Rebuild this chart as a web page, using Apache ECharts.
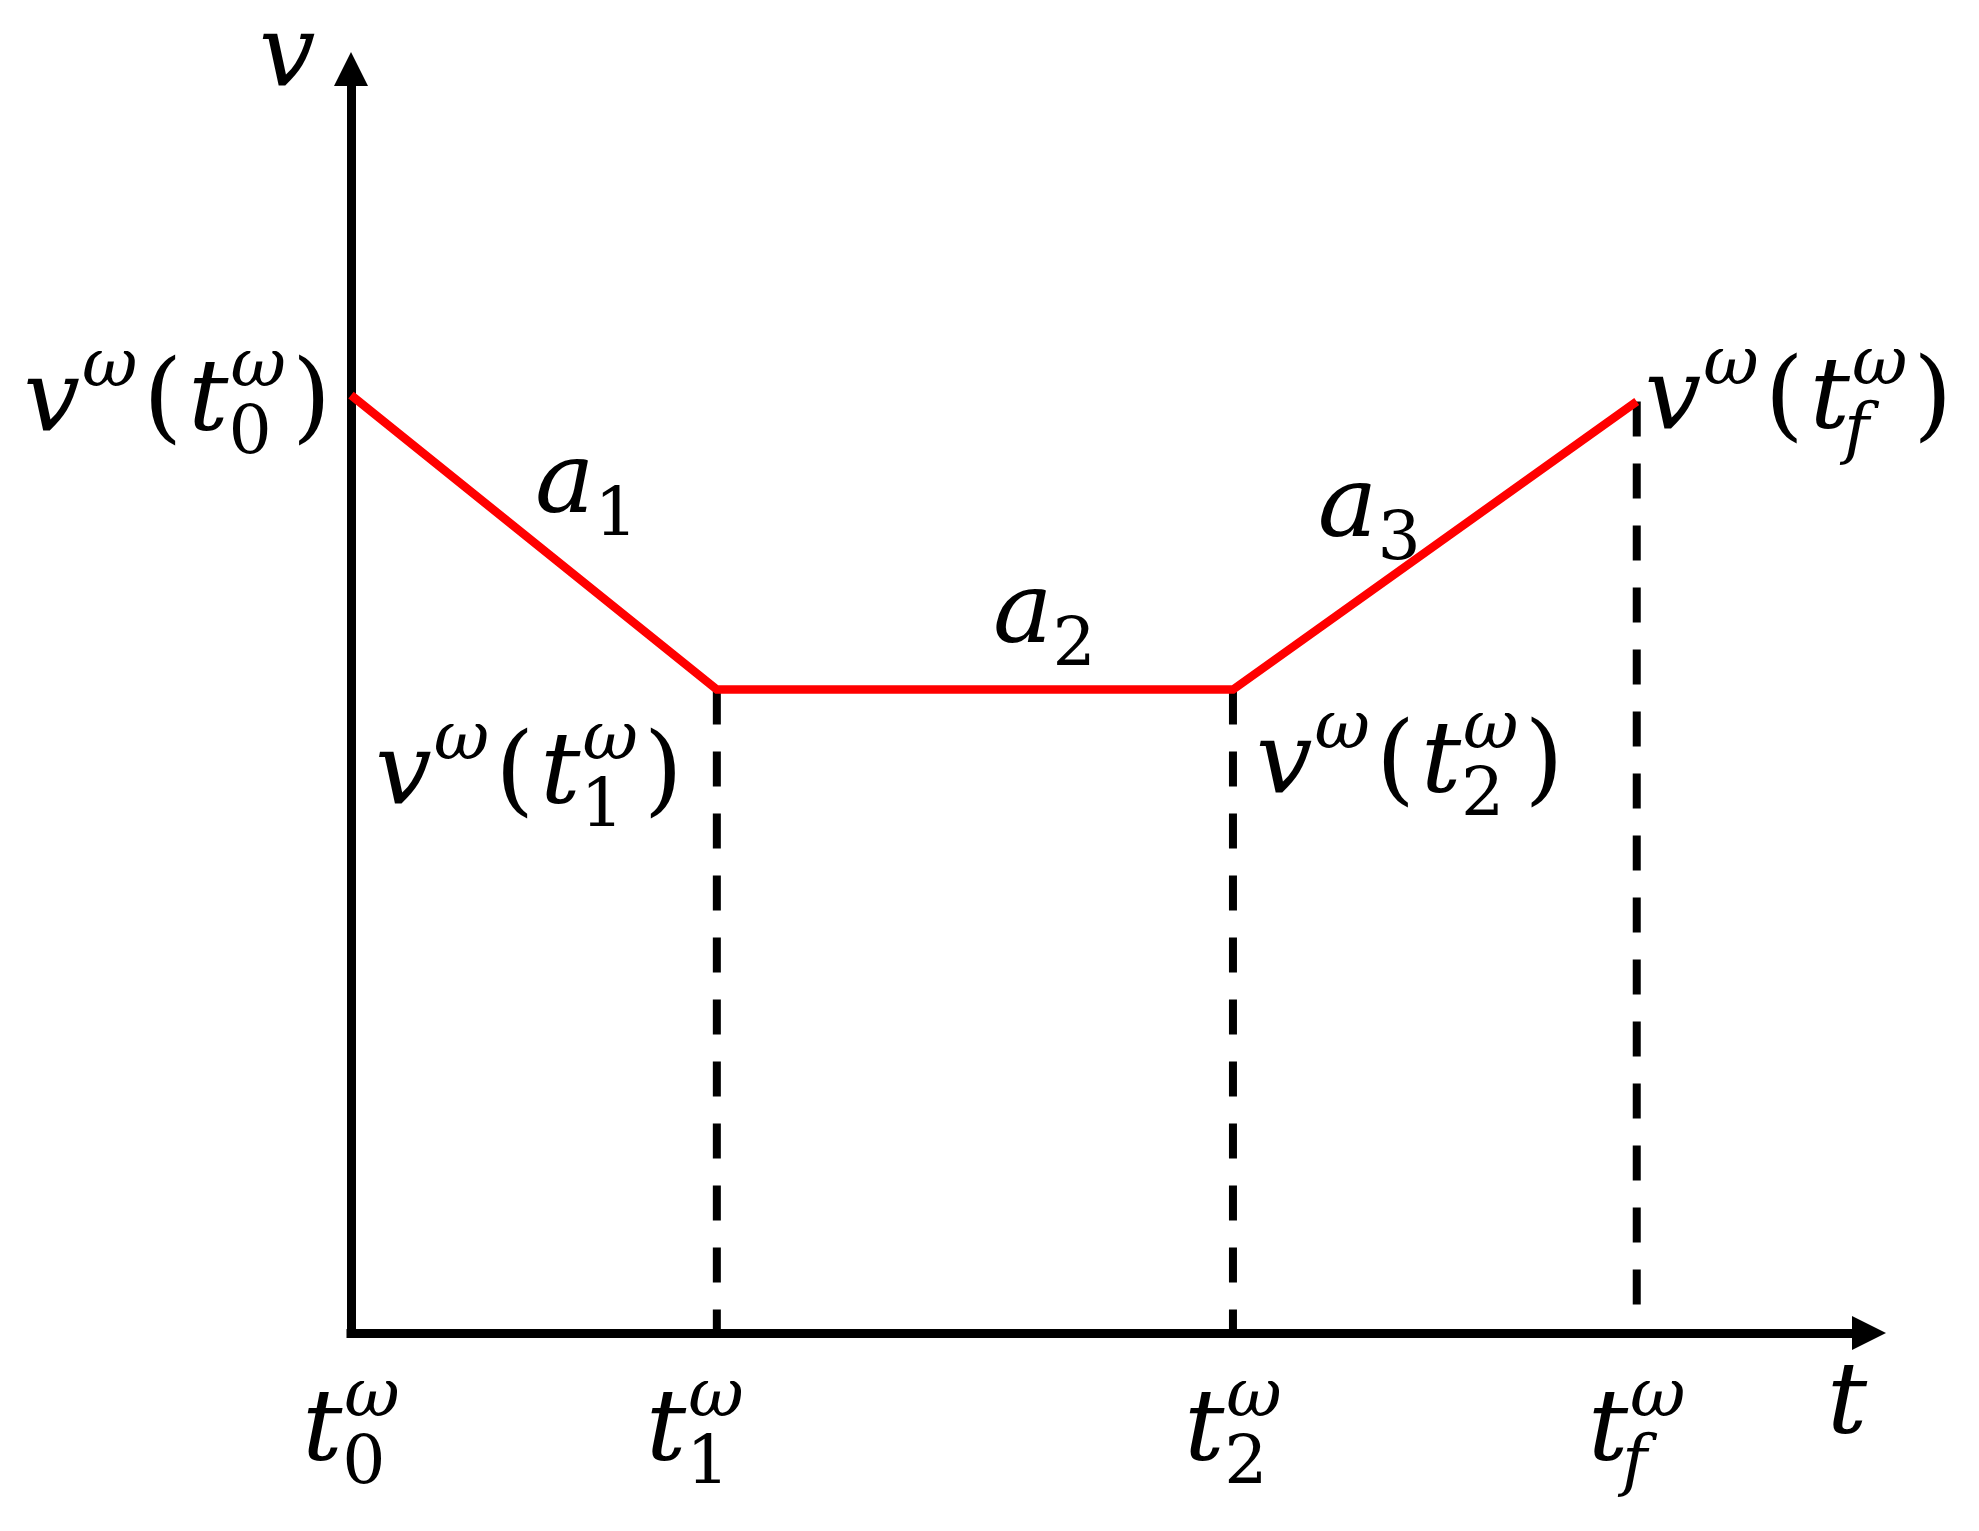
<!DOCTYPE html>
<html>
<head>
<meta charset="utf-8">
<script src="https://cdn.jsdelivr.net/npm/echarts@6/dist/echarts.min.js"></script>
<style>
  html, body { margin: 0; padding: 0; background: #fff; }
  #main { width: 1979px; height: 1531px; }
</style>
</head>
<body>
<div id="main"></div>
<script>
// break points of the speed profile (t on x, v on y)
var tTicks = [0, 24.1, 58.1, 84.7];
var vValues = [74.2, 50.9, 50.9, 73.7];
var tickLabels = ['t_0^ω', 't_1^ω', 't_2^ω', 't_f^ω'];
var pointLabels = ['v^ω(t_0^ω)', 'v^ω(t_1^ω)', 'v^ω(t_2^ω)', 'v^ω(t_f^ω)'];
var segmentLabels = ['a_1', 'a_2', 'a_3'];
var axisNames = ['t', 'v'];

// where each label sits relative to its anchor (pixels, baseline based)
var tickPlace = [{dx: 0}, {dx: -22}, {dx: 0}, {dx: 0}];
var pointPlace = [
    {align: 'right', dx: -20, dy: 35},
    {align: 'right', dx: -34, dy: 113},
    {align: 'left', dx: 23, dy: 102},
    {align: 'left', dx: 8, dy: 27}
];
var segmentPlace = [
    {dx: 1, dy: -30},
    {dx: 18, dy: -48},
    {dx: -117, dy: -10}
];

var FONT = '"DejaVu Serif", serif';
var MAIN = 100, SMALL = 68, RUN_GAP = 6;
var ctx = document.createElement('canvas').getContext('2d');

function isItalic(c) {
    return /[a-zA-Zα-ω]/.test(c);
}
function fontOf(size, italic) {
    return (italic ? 'italic ' : '') + size + 'px ' + FONT;
}
function measure(txt, size, italic) {
    ctx.font = fontOf(size, italic);
    return ctx.measureText(txt).width;
}
function parseMath(str) {
    var runs = [];
    for (var i = 0; i < str.length; i++) {
        var c = str[i];
        if ((c === '^' || c === '_') && runs.length) {
            runs[runs.length - 1][c === '^' ? 'sup' : 'sub'] = str[++i];
        } else {
            runs.push({base: c});
        }
    }
    return runs;
}
function layoutMath(str) {
    var glyphs = [];
    var x = 0;
    var runs = parseMath(str);
    runs.forEach(function (r, n) {
        var it = isItalic(r.base);
        glyphs.push({text: r.base, x: x, dy: 0, size: MAIN, italic: it});
        x += measure(r.base, MAIN, it);
        if (r.sup || r.sub) {
            var sw = 0;
            if (r.sup) {
                glyphs.push({text: r.sup, x: x + 2, dy: -0.44 * MAIN, size: SMALL, italic: isItalic(r.sup)});
                sw = Math.max(sw, measure(r.sup, SMALL, isItalic(r.sup)) + 2);
            }
            if (r.sub) {
                var sx = r.sub === 'f' ? x - 6 : x;
                glyphs.push({text: r.sub, x: sx, dy: 0.23 * MAIN, size: SMALL, italic: isItalic(r.sub)});
                sw = Math.max(sw, measure(r.sub, SMALL, isItalic(r.sub)));
            }
            x += sw;
        }
        if (n < runs.length - 1) x += RUN_GAP;
    });
    return {glyphs: glyphs, width: x};
}

// anchors (data coords) for every math label, plus how to place it
var labelItems = [];
tTicks.forEach(function (t, i) {
    labelItems.push({value: [t, 0], text: tickLabels[i], align: 'center', dx: tickPlace[i].dx, dy: 127});
    labelItems.push({value: [t, vValues[i]], text: pointLabels[i],
        align: pointPlace[i].align, dx: pointPlace[i].dx, dy: pointPlace[i].dy});
});
segmentLabels.forEach(function (s, i) {
    labelItems.push({value: [(tTicks[i] + tTicks[i + 1]) / 2, (vValues[i] + vValues[i + 1]) / 2],
        text: s, align: 'left', dx: segmentPlace[i].dx, dy: segmentPlace[i].dy});
});
labelItems.push({value: [100, 0], text: axisNames[0], align: 'left', dx: -42, dy: 100});
labelItems.push({value: [0, 100], text: axisNames[1], align: 'left', dx: -92, dy: 16});

var axisCommon = {
    type: 'value',
    min: 0,
    max: 100,
    axisLine: {
        show: true,
        symbol: ['none', 'triangle'],
        symbolSize: [34, 34],
        lineStyle: {color: '#000', width: 9, cap: 'square'}
    },
    axisTick: {show: false},
    axisLabel: {show: false},
    splitLine: {show: false}
};

var series = [];
// dashed drop lines
for (var k = 1; k < tTicks.length; k++) {
    series.push({
        type: 'line',
        z: 1,
        symbol: 'none',
        silent: true,
        data: [[tTicks[k], vValues[k]], [tTicks[k], 0]],
        lineStyle: {color: '#000', width: 8, type: [35, 27]}
    });
}
series.push({
    type: 'line',
    z: 3,
    symbol: 'none',
    silent: true,
    data: tTicks.map(function (t, i) { return [t, vValues[i]]; }),
    lineStyle: {color: '#ff0000', width: 8.5, join: 'miter'}
});
series.push({
    type: 'custom',
    z: 4,
    silent: true,
    clip: false,
    data: labelItems.map(function (d) { return d.value; }),
    renderItem: function (params, api) {
        var spec = labelItems[params.dataIndex];
        var p = api.coord([api.value(0), api.value(1)]);
        var lay = layoutMath(spec.text);
        var x0 = p[0] + spec.dx;
        if (spec.align === 'right') x0 -= lay.width;
        else if (spec.align === 'center') x0 -= lay.width / 2;
        var y0 = p[1] + spec.dy;
        return {
            type: 'group',
            children: lay.glyphs.map(function (g) {
                return {
                    type: 'text',
                    x: x0 + g.x,
                    y: y0 + g.dy - 0.26 * g.size,
                    style: {
                        text: g.text,
                        font: fontOf(g.size, g.italic),
                        fill: '#000',
                        align: 'left',
                        verticalAlign: 'middle'
                    }
                };
            })
        };
    }
});

var option = {
    backgroundColor: '#fff',
    animation: false,
    grid: {left: 351, right: 110, top: 69, bottom: 198, containLabel: false},
    xAxis: axisCommon,
    yAxis: echarts.util.clone(axisCommon),
    series: series
};

var myChart = echarts.init(document.getElementById('main'));
myChart.setOption(option);
</script>
</body>
</html>
